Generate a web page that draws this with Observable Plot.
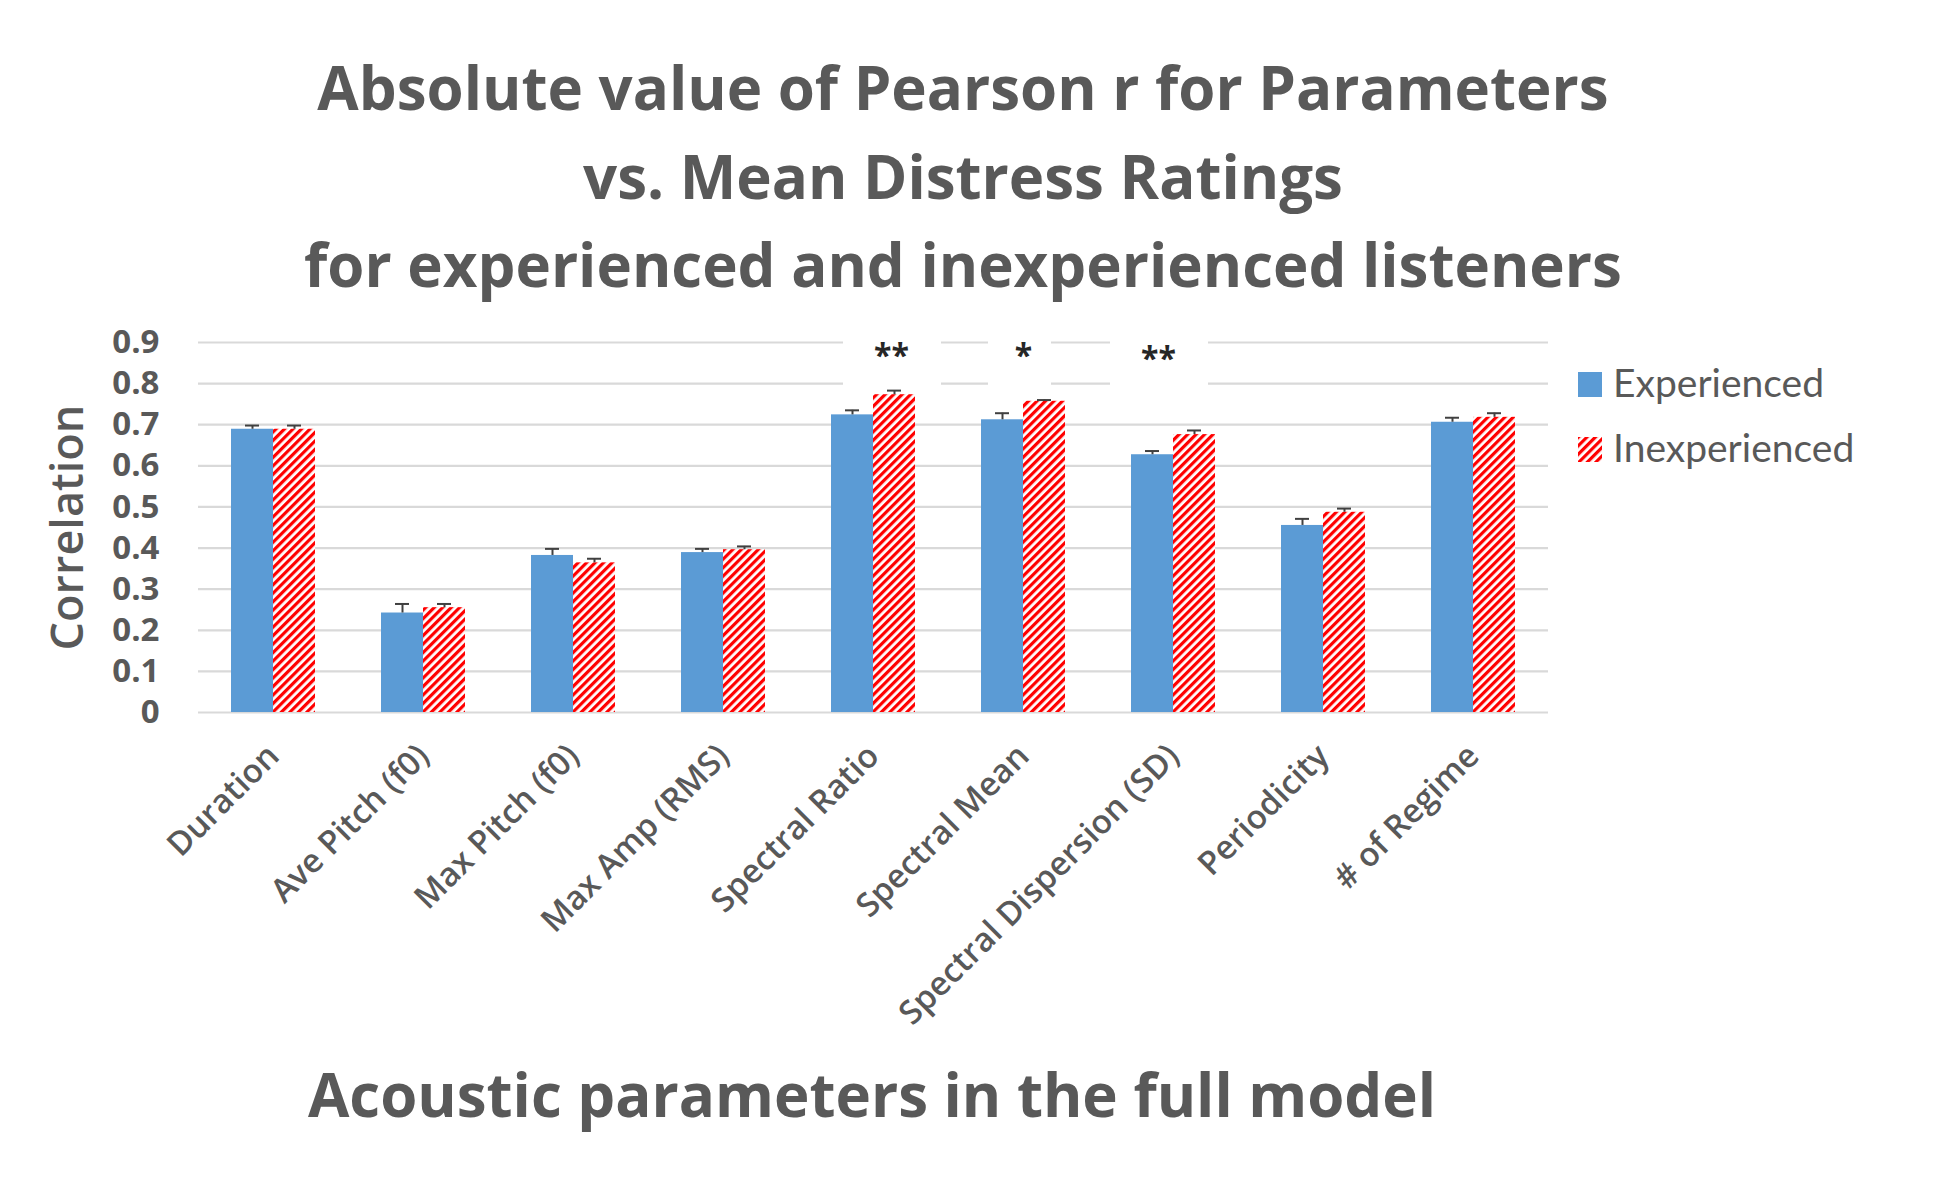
<!DOCTYPE html>
<html>
<head>
<meta charset="utf-8">
<script src="https://cdn.jsdelivr.net/npm/d3@7"></script>
<script src="https://cdn.jsdelivr.net/npm/@observablehq/plot@0.6"></script>
<style>
  html, body { margin: 0; padding: 0; background: #fff; }
  #root { position: relative; width: 1936px; height: 1187px; background: #fff; overflow: hidden; }
  #title { position: absolute; left: 0; width: 1926px; top: 43px; text-align: center;
           font-family: "Open Sans", sans-serif; font-weight: 700; font-size: 60px; line-height: 88.5px; color: #595959; }
  #chart { position: absolute; left: 0; top: 300px; }
  #footer { position: absolute; left: 0; width: 1744px; top: 1050px; text-align: center;
            font-family: "Open Sans", sans-serif; font-weight: 700; font-size: 60px; line-height: 88.5px; color: #595959; }
  #legend { position: absolute; left: 1570px; top: 350px; }
</style>
</head>
<body>
<svg width="0" height="0" style="position:absolute">
  <defs>
    <pattern id="hatch" patternUnits="userSpaceOnUse" width="6" height="6" patternTransform="rotate(45)">
      <rect x="0" y="0" width="6" height="6" fill="#ffffff"></rect>
      <rect x="0" y="0" width="3.2" height="6" fill="#ff0000"></rect>
    </pattern>
  </defs>
</svg>
<div id="root">
  <div id="title">Absolute value of Pearson r for Parameters<br>vs. Mean Distress Ratings<br>for experienced and inexperienced listeners</div>
  <div id="chart"></div>
  <svg id="legend" width="340" height="130"></svg>
  <div id="footer">Acoustic parameters in the full model</div>
</div>
<script>
// ---- data ----
const params = ["Duration", "Ave Pitch (f0)", "Max Pitch (f0)", "Max Amp (RMS)", "Spectral Ratio",
                "Spectral Mean", "Spectral Dispersion (SD)", "Periodicity", "# of Regime"];
const groups = ["Experienced", "Inexperienced"];
const experienced      = [0.689, 0.242, 0.382, 0.389, 0.724, 0.712, 0.627, 0.455, 0.706];
const experiencedErr   = [0.009, 0.022, 0.016, 0.009, 0.011, 0.016, 0.009, 0.016, 0.011];
const inexperienced    = [0.689, 0.255, 0.364, 0.396, 0.773, 0.757, 0.676, 0.487, 0.718];
const inexperiencedErr = [0.009, 0.009, 0.010, 0.008, 0.010, 0.003, 0.010, 0.009, 0.010];
const yTicks = [0, 0.1, 0.2, 0.3, 0.4, 0.5, 0.6, 0.7, 0.8, 0.9];
const sigParams = ["Spectral Ratio", "Spectral Mean", "Spectral Dispersion (SD)"];
const sigLabels = ["**", "*", "**"];

// ---- table built from arrays ----
const rows = params.flatMap((p, i) => [
  {param: p, group: groups[0], value: experienced[i], err: experiencedErr[i]},
  {param: p, group: groups[1], value: inexperienced[i], err: inexperiencedErr[i]}
]);
const sig = sigParams.map((p, i) => ({param: p, label: sigLabels[i]}));

const textGray = "#595959";
const blue = "#5B9BD5";
const gridGray = "#d9d9d9";
const errColor = "#404040";

// white boxes behind the significance marks (cut the gridlines), one per annotation
const boxInsets = [[45, 7], [40, 47], [12, 40]];
const boxMarks = sig.map((s, i) => Plot.rect([s], {
  fx: "param", y1: 0.77, y2: 0.935, fill: "#ffffff",
  insetLeft: boxInsets[i][0], insetRight: boxInsets[i][1]
}));
const starOffsets = [18, 0, -15];
const starDy = [0, 0, 3];
const starMarks = sig.map((s, i) => Plot.text([s], {
  fx: "param", y: 0.866, text: "label", dx: starOffsets[i], dy: starDy[i],
  fontSize: 32, fontWeight: 700, fill: "#262626", fontFamily: "Open Sans"
}));

const chart = Plot.plot({
  width: 1936,
  height: 742,
  marginLeft: 194,
  marginRight: 384,
  marginTop: 42,
  marginBottom: 330,
  style: {fontFamily: "Open Sans, sans-serif", background: "transparent", overflow: "visible"},
  fx: {domain: params, padding: 0, label: null, axis: null},
  x: {domain: groups, paddingInner: 0, paddingOuter: 0.775, axis: null},
  y: {domain: [0, 0.9], label: null},
  marks: [
    Plot.ruleY(yTicks, {stroke: gridGray, strokeWidth: 2.2}),
    ...boxMarks,
    Plot.barY(rows.filter(d => d.group === groups[0]), {fx: "param", x: "group", y: "value", fill: blue}),
    Plot.barY(rows.filter(d => d.group === groups[1]), {fx: "param", x: "group", y: "value", fill: "url(#hatch)"}),
    Plot.ruleX(rows, {fx: "param", x: "group", y1: "value", y2: d => d.value + d.err, stroke: errColor, strokeWidth: 2}),
    Plot.tickY(rows, {fx: "param", x: "group", y: d => d.value + d.err, stroke: errColor, strokeWidth: 2, insetLeft: 14, insetRight: 14}),
    ...starMarks,
    Plot.axisY({ticks: yTicks, tickSize: 0, tickPadding: 39, tickFormat: d => String(d),
                fontSize: 33, fontWeight: 700, fill: textGray, label: null}),
    Plot.axisY({ticks: [], tickSize: 0, label: "Correlation", labelAnchor: "center", labelArrow: "none",
                labelOffset: 147, fontSize: 45, fontWeight: 600, fill: textGray}),
    Plot.axisFx({anchor: "bottom", tickRotate: -45, tickSize: 0, tickPadding: 38, fontSize: 33, fontWeight: 600,
                 fill: textGray, label: null})
  ]
});
document.getElementById("chart").appendChild(chart);

// ---- legend ----
const legend = d3.select("#legend");
const legendItems = [
  {label: groups[0], fill: blue},
  {label: groups[1], fill: "url(#hatch)"}
];
legendItems.forEach((it, i) => {
  const y0 = 22 + i * 65;
  legend.append("rect").attr("x", 8).attr("y", y0).attr("width", 24).attr("height", 25).attr("fill", it.fill);
  legend.append("text").attr("x", 43).attr("y", y0 + 25)
    .attr("font-family", "Lato, sans-serif").attr("font-size", 39).attr("fill", textGray)
    .text(it.label);
});
</script>
</body>
</html>
